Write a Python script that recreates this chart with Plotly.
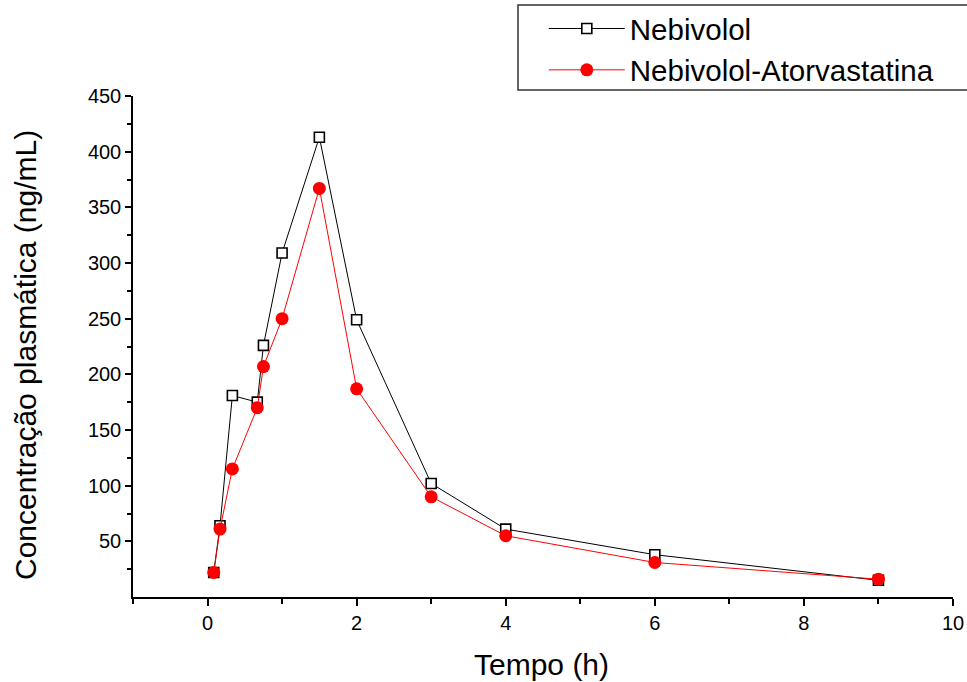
import plotly.graph_objects as go

tempo_h = [0.083, 0.167, 0.333, 0.667, 0.75, 1, 1.5, 2, 3, 4, 6, 9]
nebivolol = [22, 64, 181, 175, 226, 309, 413, 249, 102, 61, 38, 15]
nebivolol_atorvastatina = [22, 61, 115, 170, 207, 250, 367, 187, 90, 55, 31, 16]

x_ticks = [0, 2, 4, 6, 8, 10]
y_ticks = [50, 100, 150, 200, 250, 300, 350, 400, 450]

FONT = "Liberation Sans, Arial, sans-serif"

fig = go.Figure()
fig.add_trace(go.Scatter(
    x=tempo_h, y=nebivolol, name="Nebivolol", mode="lines+markers",
    line=dict(color="black", width=1),
    marker=dict(symbol="square", size=10, color="white",
                line=dict(color="black", width=1.6)),
))
fig.add_trace(go.Scatter(
    x=tempo_h, y=nebivolol_atorvastatina, name="Nebivolol-Atorvastatina",
    mode="lines+markers",
    line=dict(color="#ff0000", width=1),
    marker=dict(symbol="circle", size=13, color="#ff0000",
                line=dict(width=0)),
))

# legend frame (extends beyond the right edge like the original)
fig.add_shape(type="rect", xref="paper", yref="paper",
              x0=0.4695, x1=1.06, y0=1.012, y1=1.1816,
              line=dict(color="#333333", width=1.5), fillcolor="white",
              layer="below")

fig.update_layout(
    width=967, height=682,
    margin=dict(l=133, r=14, t=96, b=85, autoexpand=False),
    paper_bgcolor="white", plot_bgcolor="white",
    font=dict(family=FONT, color="black"),
    showlegend=True,
    legend=dict(
        x=0.501, y=1.186, xanchor="left", yanchor="top",
        bgcolor="rgba(0,0,0,0)", borderwidth=0,
        font=dict(size=29.5, family=FONT),
        itemwidth=76, tracegroupgap=0,
    ),
    xaxis=dict(
        range=[-1, 10], tickvals=x_ticks, ticktext=[str(v) for v in x_ticks],
        showgrid=False, zeroline=False,
        showline=True, linecolor="black", linewidth=1.5,
        ticks="outside", ticklen=7, tickwidth=1.5, tickcolor="black",
        tickfont=dict(size=20),
        minor=dict(tickvals=[-1, 1, 3, 5, 7, 9], ticks="outside", ticklen=5,
                   tickwidth=1.5, tickcolor="black"),
    ),
    yaxis=dict(
        range=[0, 450], tickvals=y_ticks, ticktext=[str(v) for v in y_ticks],
        showgrid=False, zeroline=False,
        showline=True, linecolor="black", linewidth=1.5,
        ticks="outside", ticklen=6, tickwidth=1.5, tickcolor="black",
        tickfont=dict(size=20),
        minor=dict(tickvals=[25, 75, 125, 175, 225, 275, 325, 375, 425],
                   ticks="outside", ticklen=4, tickwidth=1.5, tickcolor="black"),
    ),
    annotations=[
        dict(text="Tempo (h)", xref="paper", yref="paper",
             x=0.4976, y=-0.1357, xanchor="center", yanchor="middle",
             showarrow=False, font=dict(size=30, family=FONT)),
        dict(text="Concentração plasmática (ng/mL)", xref="paper", yref="paper",
             x=-0.1317, y=0.483, xanchor="center", yanchor="middle",
             textangle=-90, showarrow=False, font=dict(size=30, family=FONT)),
    ],
)

fig.write_html("out.html")
